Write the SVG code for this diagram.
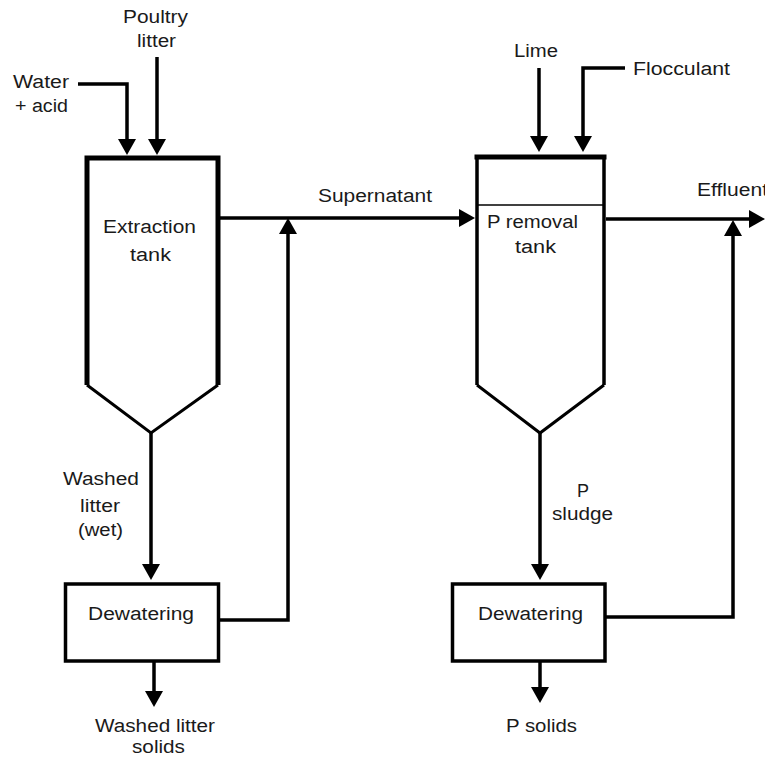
<svg xmlns="http://www.w3.org/2000/svg" width="765" height="758" viewBox="0 0 765 758">
<style>
  text { font-family: "Liberation Sans", Arial, sans-serif; font-size: 18px; fill: #1a1a1a; }
  .ln { fill: none; stroke: #000; stroke-width: 3.5; stroke-linejoin: miter; }
  .wall { fill: none; stroke: #000; stroke-width: 5; }
  .cone { fill: none; stroke: #000; stroke-width: 3; }
  .box { fill: #fff; stroke: #000; stroke-width: 3.5; }
</style>
<defs>
  <marker id="ah" markerUnits="userSpaceOnUse" markerWidth="17" markerHeight="18" refX="0" refY="9" orient="auto">
    <path d="M0,0 L16,9 L0,18 Z" fill="#000"/>
  </marker>
</defs>
<rect width="765" height="758" fill="#fff"/>

<g id="connectors">
  <path class="ln" d="M78,84 H127 V139" marker-end="url(#ah)"/>
  <path class="ln" d="M157,57 V139" marker-end="url(#ah)"/>
  <path class="ln" d="M220,218 H459" marker-end="url(#ah)"/>
  <path class="ln" d="M219,620 H288 V234" marker-end="url(#ah)"/>
  <path class="ln" d="M151,433 V564" marker-end="url(#ah)"/>
  <path class="ln" d="M154,661 V691" marker-end="url(#ah)"/>
  <path class="ln" d="M539,68 V136" marker-end="url(#ah)"/>
  <path class="ln" d="M625,68 H583 V136" marker-end="url(#ah)"/>
  <path class="ln" d="M606,219 H749" marker-end="url(#ah)"/>
  <path class="ln" d="M606,617 H733 V236" marker-end="url(#ah)"/>
  <path class="ln" d="M540,433 V564" marker-end="url(#ah)"/>
  <path class="ln" d="M540,661 V687" marker-end="url(#ah)"/>
</g>

<g id="extraction-tank">
  <path class="cone" d="M87,385 L151,433 L218,385"/>
  <path class="wall" d="M87,385 V158 H218 V385"/>
  <text x="103" y="233" textLength="93" lengthAdjust="spacingAndGlyphs">Extraction</text>
  <text x="130" y="261" textLength="41" lengthAdjust="spacingAndGlyphs">tank</text>
</g>

<g id="p-removal-tank">
  <path class="cone" d="M477,385 L540,433 L604,385"/>
  <path class="ln" d="M477,385 V157 M604,157 V385"/>
  <path d="M474.5,157 H606.5" stroke="#000" stroke-width="5" fill="none"/>
  <path d="M477,205 H604" stroke="#000" stroke-width="1.5" fill="none"/>
  <text x="487" y="228" textLength="91" lengthAdjust="spacingAndGlyphs">P removal</text>
  <text x="515" y="253" textLength="41" lengthAdjust="spacingAndGlyphs">tank</text>
</g>

<g id="dewatering-1">
  <rect class="box" x="65.5" y="584" width="153" height="77"/>
  <text x="88" y="620" textLength="106" lengthAdjust="spacingAndGlyphs">Dewatering</text>
</g>

<g id="dewatering-2">
  <rect class="box" x="452.5" y="584" width="152.5" height="77"/>
  <text x="478" y="620" textLength="105" lengthAdjust="spacingAndGlyphs">Dewatering</text>
</g>

<g id="labels">
  <text x="123" y="23" textLength="65" lengthAdjust="spacingAndGlyphs">Poultry</text>
  <text x="137" y="47" textLength="39" lengthAdjust="spacingAndGlyphs">litter</text>
  <text x="13" y="88" textLength="56" lengthAdjust="spacingAndGlyphs">Water</text>
  <text x="15" y="112" textLength="53" lengthAdjust="spacingAndGlyphs">+ acid</text>
  <text x="318" y="202" textLength="114" lengthAdjust="spacingAndGlyphs">Supernatant</text>
  <text x="514" y="57" textLength="44" lengthAdjust="spacingAndGlyphs">Lime</text>
  <text x="633" y="75" textLength="97" lengthAdjust="spacingAndGlyphs">Flocculant</text>
  <text x="697" y="196" textLength="71" lengthAdjust="spacingAndGlyphs">Effluent</text>
  <text x="63" y="485" textLength="76" lengthAdjust="spacingAndGlyphs">Washed</text>
  <text x="80" y="512" textLength="40" lengthAdjust="spacingAndGlyphs">litter</text>
  <text x="78" y="536" textLength="45" lengthAdjust="spacingAndGlyphs">(wet)</text>
  <text x="95" y="732" textLength="120" lengthAdjust="spacingAndGlyphs">Washed litter</text>
  <text x="132" y="753" textLength="53" lengthAdjust="spacingAndGlyphs">solids</text>
  <text x="577" y="497" textLength="12" lengthAdjust="spacingAndGlyphs">P</text>
  <text x="552" y="520" textLength="61" lengthAdjust="spacingAndGlyphs">sludge</text>
  <text x="506" y="732" textLength="71" lengthAdjust="spacingAndGlyphs">P solids</text>
</g>
</svg>
